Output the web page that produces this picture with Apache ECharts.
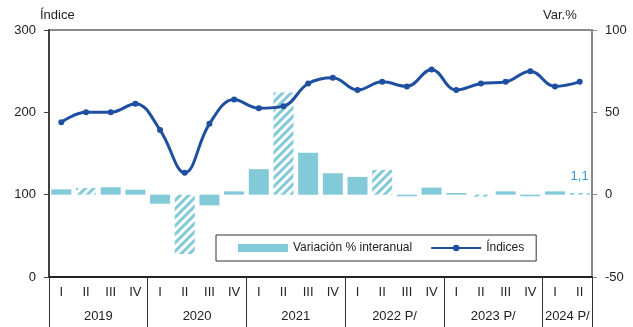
<!DOCTYPE html>
<html>
<head>
<meta charset="utf-8">
<script src="https://cdn.jsdelivr.net/npm/echarts@6/dist/echarts.min.js"></script>
<style>html,body{margin:0;padding:0;background:#fff}#c{width:633px;height:327px}</style>
</head>
<body>
<div id="c"></div>
<script>
var quarters = ['I','II','III','IV','I','II','III','IV','I','II','III','IV','I','II','III','IV','I','II','III','IV','I','II'];
var yearLabels = ['2019','2020','2021','2022 P/','2023 P/','2024 P/'];
var yearLabelPos = [2, 6, 10, 14, 18, 21];
var yearBounds = [0, 4, 8, 12, 16, 20, 22];
var indices = [188, 200, 200, 210.5, 178.5, 126.5, 186, 215.5, 205, 207.5, 235, 242, 227, 237, 231.5, 252, 227, 235, 237, 250, 231.5, 237];
var variation = [3.2, 4.0, 4.5, 3.0, -5.5, -36.0, -6.5, 2.0, 15.5, 62.0, 25.5, 13.0, 10.8, 15.0, -1.0, 4.3, 1.0, -1.2, 2.0, -1.0, 2.0, 1.1];
var preliminaryHatched = [1, 5, 9, 13, 17, 21];
var leftTicks = [0, 100, 200, 300];
var rightTicks = [-50, 0, 50, 100];

var barColor = '#82CAD7';
var lineColor = '#1E4FA0';
var narrow = '"Liberation Sans Narrow","Arial Narrow","Liberation Sans",Arial,sans-serif';
var sans = '"Liberation Sans",Arial,sans-serif';

var barData = variation.map(function (v, i) {
  var item = { value: v };
  if (preliminaryHatched.indexOf(i) >= 0) {
    item.itemStyle = {
      color: '#ffffff',
      decal: {
        symbol: 'rect',
        symbolSize: 1,
        color: barColor,
        dashArrayX: [1, 0],
        dashArrayY: [2.5, 2.5],
        rotation: -Math.PI / 4
      }
    };
  }
  if (i === variation.length - 1) {
    item.label = {
      show: true,
      position: 'top',
      distance: 10,
      formatter: function (p) { return String(p.value).replace('.', ','); },
      color: '#3A93D2',
      fontSize: 13,
      fontFamily: sans
    };
  }
  return item;
});

var chart = echarts.init(document.getElementById('c'), null, { renderer: 'canvas' });
chart.setOption({
  animation: false,
  backgroundColor: '#ffffff',
  title: [
    { text: 'Índice', left: 40, top: 9, padding: 0, textStyle: { fontSize: 13, fontWeight: 'normal', color: '#222', fontFamily: sans } },
    { text: 'Var.%', left: 543, top: 9, padding: 0, textStyle: { fontSize: 13, fontWeight: 'normal', color: '#222', fontFamily: sans } }
  ],
  grid: { left: 49, right: 41, top: 30, bottom: 50, show: true, borderColor: '#8a8a8a', borderWidth: 2 },
  legend: {
    left: 216, top: 235,
    padding: [7, 12, 7, 22],
    borderColor: '#333', borderWidth: 1, backgroundColor: '#fff',
    itemWidth: 50, itemHeight: 8, itemGap: 18,
    textStyle: { fontSize: 12, color: '#222', fontFamily: narrow },
    data: [{ name: 'Variación % interanual', icon: 'rect' }, 'Índices']
  },
  xAxis: [
    {
      type: 'category', data: quarters, position: 'bottom',
      axisLine: { onZero: false, lineStyle: { color: '#222', width: 2 } },
      axisTick: { show: false },
      axisLabel: { interval: 0, margin: 9, fontSize: 13, color: '#222', fontFamily: narrow }
    },
    {
      type: 'value', min: 0, max: 22, position: 'bottom',
      axisLine: { show: false, onZero: false },
      splitLine: { show: false },
      axisTick: { show: true, customValues: yearBounds, length: 50, lineStyle: { color: '#333', width: 1 } },
      axisLabel: {
        customValues: yearLabelPos, margin: 33, fontSize: 13, color: '#222', fontFamily: narrow,
        formatter: function (v) { var k = yearLabelPos.indexOf(v); return k >= 0 ? yearLabels[k] : ''; }
      }
    }
  ],
  yAxis: [
    {
      type: 'value', min: 0, max: 300, interval: 100, position: 'left',
      axisLine: { show: true, onZero: false, lineStyle: { color: '#404040', width: 2 } },
      axisTick: { show: true, length: 5, lineStyle: { color: '#404040' } },
      splitLine: { show: false },
      axisLabel: { margin: 13, fontSize: 13, color: '#222', fontFamily: sans, customValues: leftTicks }
    },
    {
      type: 'value', min: -50, max: 100, interval: 50, position: 'right',
      axisLine: { show: true, onZero: false, lineStyle: { color: '#8a8a8a', width: 2 } },
      axisTick: { show: true, length: 5, lineStyle: { color: '#8a8a8a' } },
      splitLine: { show: false },
      axisLabel: { margin: 13, fontSize: 13, color: '#222', fontFamily: sans, customValues: rightTicks }
    }
  ],
  series: [
    {
      name: 'Variación % interanual', type: 'bar', xAxisIndex: 0, yAxisIndex: 1,
      barWidth: 20,
      itemStyle: { color: barColor },
      data: barData
    },
    {
      name: 'Índices', type: 'line', xAxisIndex: 0, yAxisIndex: 0,
      smooth: 0.4,
      symbol: 'circle', symbolSize: 6,
      lineStyle: { color: lineColor, width: 3 },
      itemStyle: { color: lineColor },
      data: indices
    }
  ]
});
</script>
</body>
</html>
